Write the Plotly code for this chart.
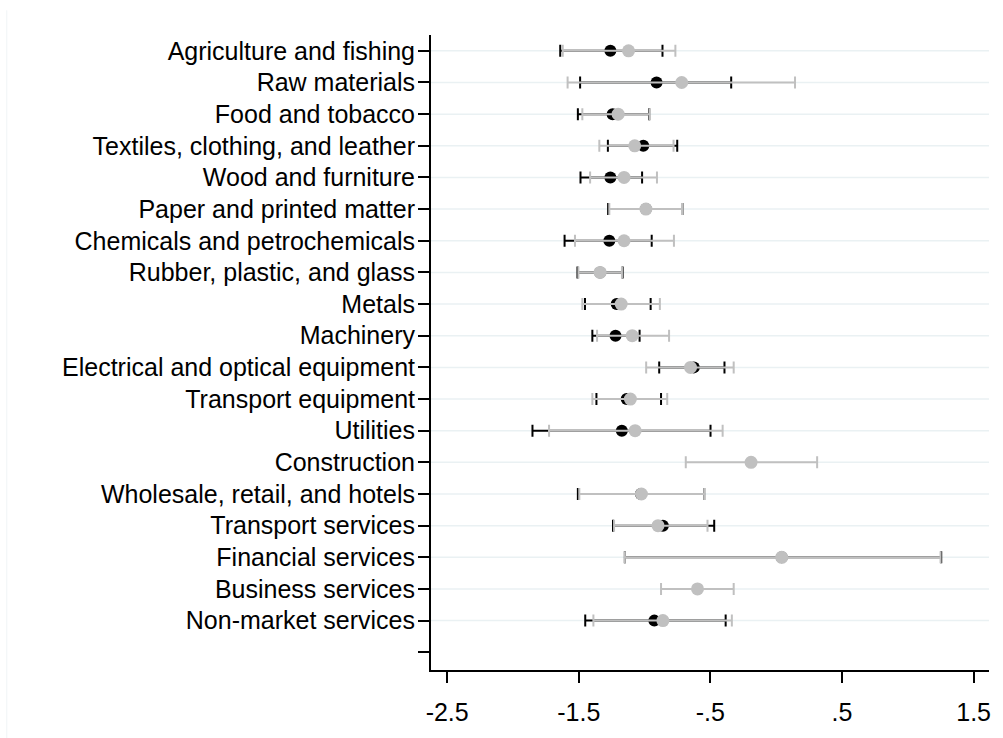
import plotly.graph_objects as go

categories = [
    "Agriculture and fishing", "Raw materials", "Food and tobacco",
    "Textiles, clothing, and leather", "Wood and furniture",
    "Paper and printed matter", "Chemicals and petrochemicals",
    "Rubber, plastic, and glass", "Metals", "Machinery",
    "Electrical and optical equipment", "Transport equipment", "Utilities",
    "Construction", "Wholesale, retail, and hotels", "Transport services",
    "Financial services", "Business services", "Non-market services",
]

# black series (estimate, lower, upper)
black_pt = [-1.260, -0.909, -1.243, -1.010, -1.260, -0.990, -1.268, -1.338, -1.212, -1.221,
            -0.626, -1.136, -1.173, None, -1.028, -0.861, 0.042, None, -0.926]
black_lo = [-1.641, -1.490, -1.507, -1.279, -1.487, -1.277, -1.608, -1.510, -1.453, -1.397,
            -0.889, -1.366, -1.852, None, -1.507, -1.240, -1.150, None, -1.451]
black_hi = [-0.864, -0.342, -0.965, -0.752, -1.019, -0.710, -0.946, -1.167, -0.954, -1.038,
            -0.393, -0.875, -0.499, None, -0.547, -0.471, 1.254, None, -0.384]

# gray series (estimate, lower, upper)
gray_pt = [-1.122, -0.718, -1.201, -1.075, -1.156, -0.990, -1.156, -1.338, -1.178, -1.094,
           -0.651, -1.108, -1.072, -0.191, -1.024, -0.898, 0.042, -0.598, -0.861]
gray_lo = [-1.622, -1.585, -1.473, -1.344, -1.414, -1.268, -1.529, -1.503, -1.473, -1.361,
           -0.988, -1.397, -1.726, -0.687, -1.496, -1.232, -1.150, -0.875, -1.389]
gray_hi = [-0.766, 0.143, -0.962, -0.780, -0.906, -0.710, -0.777, -1.172, -0.884, -0.814,
           -0.323, -0.828, -0.407, 0.311, -0.547, -0.522, 1.249, -0.323, -0.337]

x_tickvals = [-2.5, -1.5, -0.5, 0.5, 1.5]
x_ticktext = ["-2.5", "-1.5", "-.5", ".5", "1.5"]

rows = list(range(1, len(categories) + 1))


def err(pt, lo, hi):
    plus = [None if p is None else h - p for p, h in zip(pt, hi)]
    minus = [None if p is None else p - l for p, l in zip(pt, lo)]
    return plus, minus


BLACK = "#000000"
GRAY = "#c0c0c0"
FONT = "Arial, Liberation Sans, sans-serif"

fig = go.Figure()

bp, bm = err(black_pt, black_lo, black_hi)
fig.add_trace(go.Scatter(
    x=black_pt, y=rows, mode="markers",
    marker=dict(color=BLACK, size=12),
    error_x=dict(type="data", array=bp, arrayminus=bm, symmetric=False,
                 color=BLACK, thickness=2, width=6),
    showlegend=False,
))

gp, gm = err(gray_pt, gray_lo, gray_hi)
fig.add_trace(go.Scatter(
    x=gray_pt, y=rows, mode="markers",
    marker=dict(color=GRAY, size=13),
    error_x=dict(type="data", array=gp, arrayminus=gm, symmetric=False,
                 color=GRAY, thickness=2, width=6),
    showlegend=False,
))

shapes = []
for r in rows:
    shapes.append(dict(type="line", xref="paper", yref="y", x0=0, x1=1, y0=r, y1=r,
                       line=dict(color="#eaf1f3", width=1.5), layer="below"))
# faint outer frame (left edge only visible in reference)
shapes.append(dict(type="line", xref="paper", yref="paper",
                   x0=(6 - 431) / (990 - 431), x1=(6 - 431) / (990 - 431),
                   y0=-0.2, y1=(677 - 10) / (677 - 35),
                   line=dict(color="#f0f4f6", width=1), layer="below"))

fig.update_layout(
    width=1003, height=738,
    margin=dict(l=431, r=13, t=35, b=61),
    paper_bgcolor="white", plot_bgcolor="white",
    shapes=shapes,
    font=dict(family=FONT, size=25, color="#000000"),
)

fig.update_xaxes(
    range=[-2.623, 1.617],
    tickvals=x_tickvals, ticktext=x_ticktext,
    showgrid=False, zeroline=False,
    showline=True, linecolor="#000000", linewidth=2,
    ticks="outside", ticklen=11, tickwidth=2, tickcolor="#000000",
    tickfont=dict(family=FONT, size=25, color="#000000"),
    ticklabelstandoff=8,
)

fig.update_yaxes(
    range=[len(categories) + 1.56, 0.5],
    tickvals=rows + [len(categories) + 1],
    ticktext=categories + [""],
    showgrid=False, zeroline=False,
    showline=True, linecolor="#000000", linewidth=2,
    ticks="outside", ticklen=11, tickwidth=2, tickcolor="#000000",
    tickfont=dict(family=FONT, size=25, color="#000000"),
    ticklabelstandoff=-2,
)

fig.write_html(
    "out.html",
    config={"displayModeBar": False},
    post_script="document.body.style.margin='0px';document.body.style.overflow='hidden';",
)
